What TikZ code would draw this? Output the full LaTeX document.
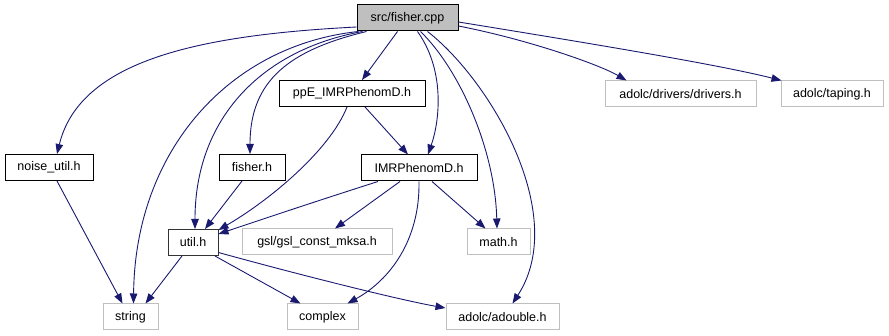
\documentclass[tikz,border=0pt]{standalone}
\usepackage{fontspec}
\setmainfont{Liberation Sans}
\usetikzlibrary{arrows.meta}
\definecolor{edgeblue}{HTML}{191970}
\definecolor{grey75}{HTML}{BFBFBF}
\begin{document}
\begin{tikzpicture}[x=1pt,y=-1pt,
  filebox/.style={draw=black,line width=1pt,fill=white,inner sep=0pt,
    minimum width=#1,minimum height=26pt,
    font=\fontsize{12.5}{15}\selectfont},
  extbox/.style={filebox=#1,draw=grey75},
  rootbox/.style={filebox=#1,fill=grey75},
  dep/.style={draw=edgeblue,line width=0.9pt,
    -{Triangle[length=10pt,width=7.5pt]}}]
\useasboundingbox (0,0) rectangle (889,336);

% files
\node[rootbox=101pt] (cpp) at (407.5,18) {src/fisher.cpp};
\node[filebox=146pt] (ppe) at (352,93.5) {ppE\_IMRPhenomD.h};
\node[extbox=151pt] (drivers) at (680.5,94) {adolc/drivers/drivers.h};
\node[extbox=102pt] (taping) at (832,94) {adolc/taping.h};
\node[filebox=88pt] (noise) at (49,167.5) {noise\_util.h};
\node[filebox=66pt] (fisherh) at (252,167.5) {fisher.h};
\node[filebox=116pt] (imr) at (419,168) {IMRPhenomD.h};
\node[filebox=50pt,draw=black!80] (util) at (193,242.5) {util.h};
\node[extbox=150pt] (gsl) at (317,242) {gsl/gsl\_const\_mksa.h};
\node[extbox=63pt] (math) at (498.5,242) {math.h};
\node[extbox=55pt] (string) at (130.5,317) {string};
\node[extbox=71pt] (complex) at (322.5,317) {complex};
\node[extbox=113pt] (adouble) at (502.5,317) {adolc/adouble.h};

% includes of src/fisher.cpp
\draw[dep] ([yshift=-9pt]cpp.west) .. controls (200,35) and (80,60) .. ([xshift=8pt]noise.north);
\draw[dep] ([xshift=2pt]cpp.south west) .. controls (230,45) and (135,150) .. ([xshift=3pt]string.north);
\draw[dep] ([xshift=6pt]cpp.south west) .. controls (260,50) and (195,120) .. ([xshift=2pt]util.north);
\draw[dep] ([xshift=10pt]cpp.south west) .. controls (290,50) and (250,80) .. ([xshift=-2pt]fisherh.north);
\draw[dep] ([xshift=-10pt]cpp.south) -- ([xshift=10pt]ppe.north);
\draw[dep] ([xshift=10pt]cpp.south) .. controls (445,70) and (440,120) .. ([xshift=9pt]imr.north);
\draw[dep] ([xshift=13pt]cpp.south) .. controls (460,70) and (495,150) .. ([xshift=-1.5pt]math.north);
\draw[dep] ([xshift=20pt]cpp.south) .. controls (490,80) and (570,215) .. ([xshift=10pt]adouble.north);
\draw[dep] ([yshift=-8pt]cpp.east) .. controls (530,40) and (600,65) .. ([xshift=22pt]drivers.north west);
\draw[dep] ([yshift=-4pt]cpp.east) .. controls (600,45) and (720,65) .. ([xshift=1pt]taping.north west);

% includes of ppE_IMRPhenomD.h
\draw[dep] ([xshift=13pt]ppe.south) -- ([xshift=-11pt]imr.north);
\draw[dep] ([xshift=-5pt]ppe.south) .. controls (330,150) and (270,200) .. ([yshift=-1pt]util.north east);

% includes of IMRPhenomD.h
\draw[dep] ([xshift=-41pt]imr.south) .. controls (320,200) and (260,220) .. ([yshift=-5pt]util.north east);
\draw[dep] ([xshift=-19pt]imr.south) -- ([xshift=18pt]gsl.north);
\draw[dep] (imr.south) .. controls (420,240) and (390,280) .. ([xshift=25pt]complex.north);
\draw[dep] ([xshift=13pt]imr.south) -- ([xshift=-13pt]math.north);

% remaining headers
\draw[dep] ([xshift=-10pt]fisherh.south) -- ([xshift=12pt]util.north);
\draw[dep] ([xshift=8pt]noise.south) -- ([xshift=-8pt]string.north);
\draw[dep] ([xshift=-11pt]util.south) -- ([xshift=15pt]string.north);
\draw[dep] ([xshift=22pt]util.south) -- ([xshift=-22pt]complex.north);
\draw[dep] ([yshift=-10pt]util.east) .. controls (300,275) and (400,300) .. ([yshift=9pt]adouble.west);
\end{tikzpicture}
\end{document}
